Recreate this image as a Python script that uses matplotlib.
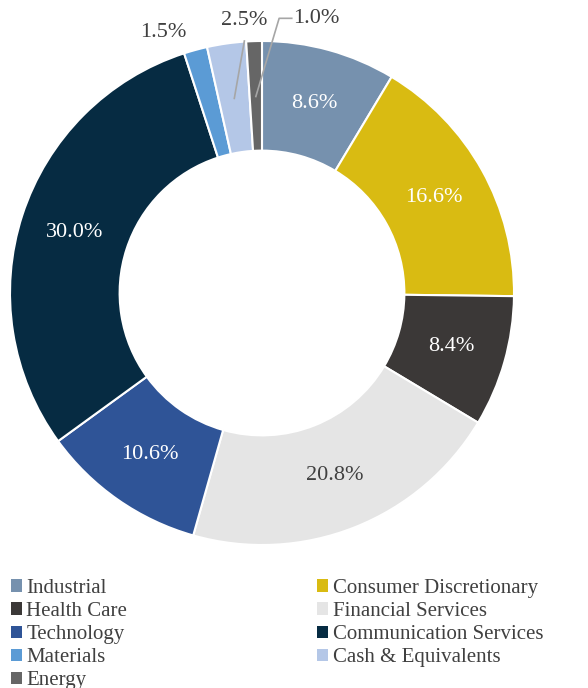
import numpy as np
import matplotlib

matplotlib.use('Agg')
import matplotlib.pyplot as plt
from matplotlib.patches import Patch

sectors = ['Industrial', 'Consumer Discretionary', 'Health Care', 'Financial Services',
           'Technology', 'Communication Services', 'Materials', 'Cash & Equivalents', 'Energy']
weights = [8.6, 16.6, 8.4, 20.8, 10.6, 30.0, 1.5, 2.5, 1.0]
colors = ['#7691AE', '#D9BB12', '#3B3837', '#E5E5E5', '#2F5497',
          '#062B42', '#5B9BD5', '#B4C7E7', '#666666']
label_colors = ['white', 'white', 'white', '#404040', 'white', 'white', '#404040', '#404040', '#404040']

plt.rcParams['font.family'] = ['Liberation Serif', 'DejaVu Serif']

fig = plt.figure(figsize=(5.88, 6.88), dpi=100)
ax = fig.add_axes([10 / 588, 143 / 688, 504 / 588, 504 / 688])

wedges, _ = ax.pie(weights, colors=colors, startangle=90, counterclock=False,
                   radius=1.0, wedgeprops=dict(width=0.435, edgecolor='white', linewidth=1.5))
ax.set_xlim(-1, 1)
ax.set_ylim(-1, 1)
ax.set_aspect('equal')
ax.axis('off')

ring_r = 0.78
# outside label positions for the small slices (index -> label xy, leader path)
outside = {
    6: ((-0.39, 1.035), None),
    7: ((-0.07, 1.08), [(-0.07, 1.0)]),
    8: ((0.125, 1.09), [(0.068, 1.09), (0.118, 1.09)]),
}

for i, w in enumerate(wedges):
    mid = np.deg2rad((w.theta1 + w.theta2) / 2)
    x, y = ring_r * np.cos(mid), ring_r * np.sin(mid)
    txt = '%.1f%%' % weights[i]
    if i in outside:
        (lx, ly), path = outside[i]
        ha = 'left' if i == 8 else 'center'
        ax.text(lx, ly, txt, ha=ha, va='center', fontsize=16, color='#404040', clip_on=False)
        if path:
            pts = [(x, y)] + path
            ax.plot([p[0] for p in pts], [p[1] for p in pts], color='#A6A6A6',
                    linewidth=1.2, clip_on=False)
    else:
        ax.text(x, y, txt, ha='center', va='center', fontsize=16, color=label_colors[i])

order = [0, 2, 4, 6, 8, 1, 3, 5, 7]
handles = [Patch(facecolor=colors[i], edgecolor='none') for i in order]
labels = [sectors[i] for i in order]
fig.legend(handles, labels, ncol=2, loc='upper left', bbox_to_anchor=(0.0, 1 - 568 / 688),
           frameon=False, fontsize=15, handlelength=0.55, handleheight=0.55,
           handletextpad=0.2, labelspacing=0.2, columnspacing=9.1,
           labelcolor='#404040', borderaxespad=0.12)

fig.savefig('out.png', dpi=100)
plt.close()
